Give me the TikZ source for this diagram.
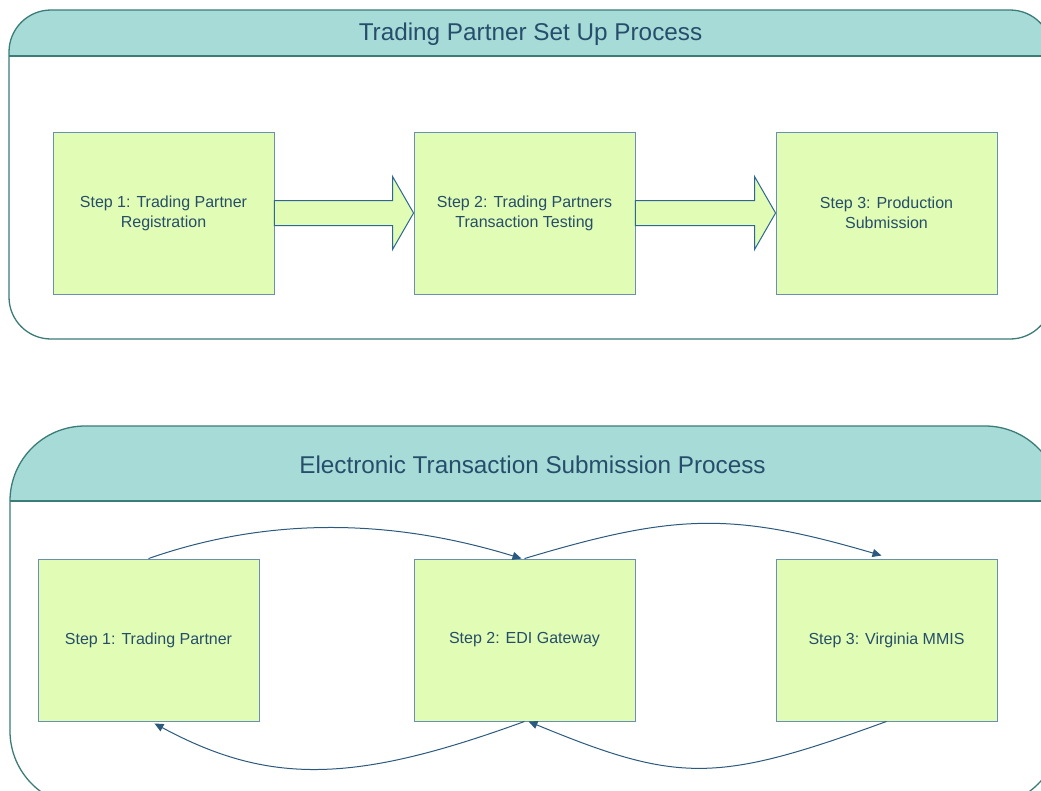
\documentclass[tikz,border=0pt]{standalone}
\usepackage{fontspec}
\setmainfont{Liberation Sans}
\usetikzlibrary{arrows.meta,calc}
\definecolor{hdr}{HTML}{A7DBD7}
\definecolor{cbord}{HTML}{3B7C78}
\definecolor{bfill}{HTML}{E1FCB4}
\definecolor{bbord}{HTML}{6B8FB4}
\definecolor{abord}{HTML}{2E6796}
\definecolor{txt}{HTML}{264E6B}
\definecolor{arr}{HTML}{2B5A7E}
\begin{document}
\begin{tikzpicture}[x=1pt,y=-1pt,
  stepbox/.style={draw=bbord,fill=bfill,line width=0.9pt,minimum width=221pt,minimum height=162pt,inner sep=0pt,align=center,text=txt,font=\fontsize{16}{20}\selectfont},
  titletext/.style={text=txt,font=\fontsize{24.3}{28}\selectfont},
  frame/.style={draw=cbord,line width=1.3pt},
  blockarrow/.style={draw=abord,fill=bfill,line width=1pt,line join=miter},
  curvearrow/.style={draw=arr,line width=1pt,-{Triangle[length=9pt,width=8pt]}}]
\useasboundingbox (0,0) rectangle (1041,790);
\clip (0,0) rectangle (1041,790);
\fill[white] (0,0) rectangle (1041,790);
% top container
\begin{scope}
  \clip[rounded corners=42pt] (9,10) rectangle (1052,339);
  \fill[hdr] (9,10) rectangle (1052,56);
\end{scope}
\draw[frame] (9,56) -- (1052,56);
\draw[frame,rounded corners=42pt] (9,10) rectangle (1052,339);
\node[titletext] (t1) at (530.5,34.5) {Trading Partner Set Up Process};
% bottom container
\begin{scope}
  \clip[rounded corners=75pt] (10,426) rectangle (1060,806);
  \fill[hdr] (10,426) rectangle (1060,501);
\end{scope}
\draw[frame] (10,501) -- (1060,501);
\draw[frame,rounded corners=75pt] (10,426) rectangle (1060,806);
\node[titletext] (t2) at (532.5,465) {Electronic Transaction Submission Process};
% top boxes
\node[stepbox] (a1) at (163.5,213) {Step 1: Trading Partner\\Registration};
\node[stepbox] (a2) at (524.5,213) {Step 2: Trading Partners\\Transaction Testing};
\node[stepbox] (a3) at (886.5,213) {Step 3: Production\\Submission};
% block arrows
\foreach \s/\t in {a1/a2,a2/a3}{
  \draw[blockarrow] ($(\s.east)+(0,-12.5)$) -- ($(\t.west)+(-21,-12.5)$) -- ($(\t.west)+(-21,-36.5)$)
    -- (\t.west) -- ($(\t.west)+(-21,36.5)$) -- ($(\t.west)+(-21,12.5)$) -- ($(\s.east)+(0,12.5)$) -- cycle;
}
% bottom boxes
\node[stepbox] (b1) at (148.5,640) {Step 1: Trading Partner};
\node[stepbox] (b2) at (524.5,640) {Step 2: EDI Gateway};
\node[stepbox] (b3) at (886.5,640) {Step 3: Virginia MMIS};
\coordinate (b3in) at ($(b3.north)+(-5,-3)$);
% curved arrows
\draw[curvearrow] (b1.north) .. controls +(120,-42) and +(-130,-40) .. ($(b2.north)+(-3,0)$);
\draw[curvearrow] (b2.north) .. controls +(150,-45) and +(-150,-44) .. (b3in);
\draw[curvearrow] (b3.south) .. controls +(-170,62) and +(150,62) .. ($(b2.south)+(4,0)$);
\draw[curvearrow] (b2.south) .. controls +(-170,62) and +(115,62) .. ($(b1.south)+(6,2)$);
\end{tikzpicture}
\end{document}
